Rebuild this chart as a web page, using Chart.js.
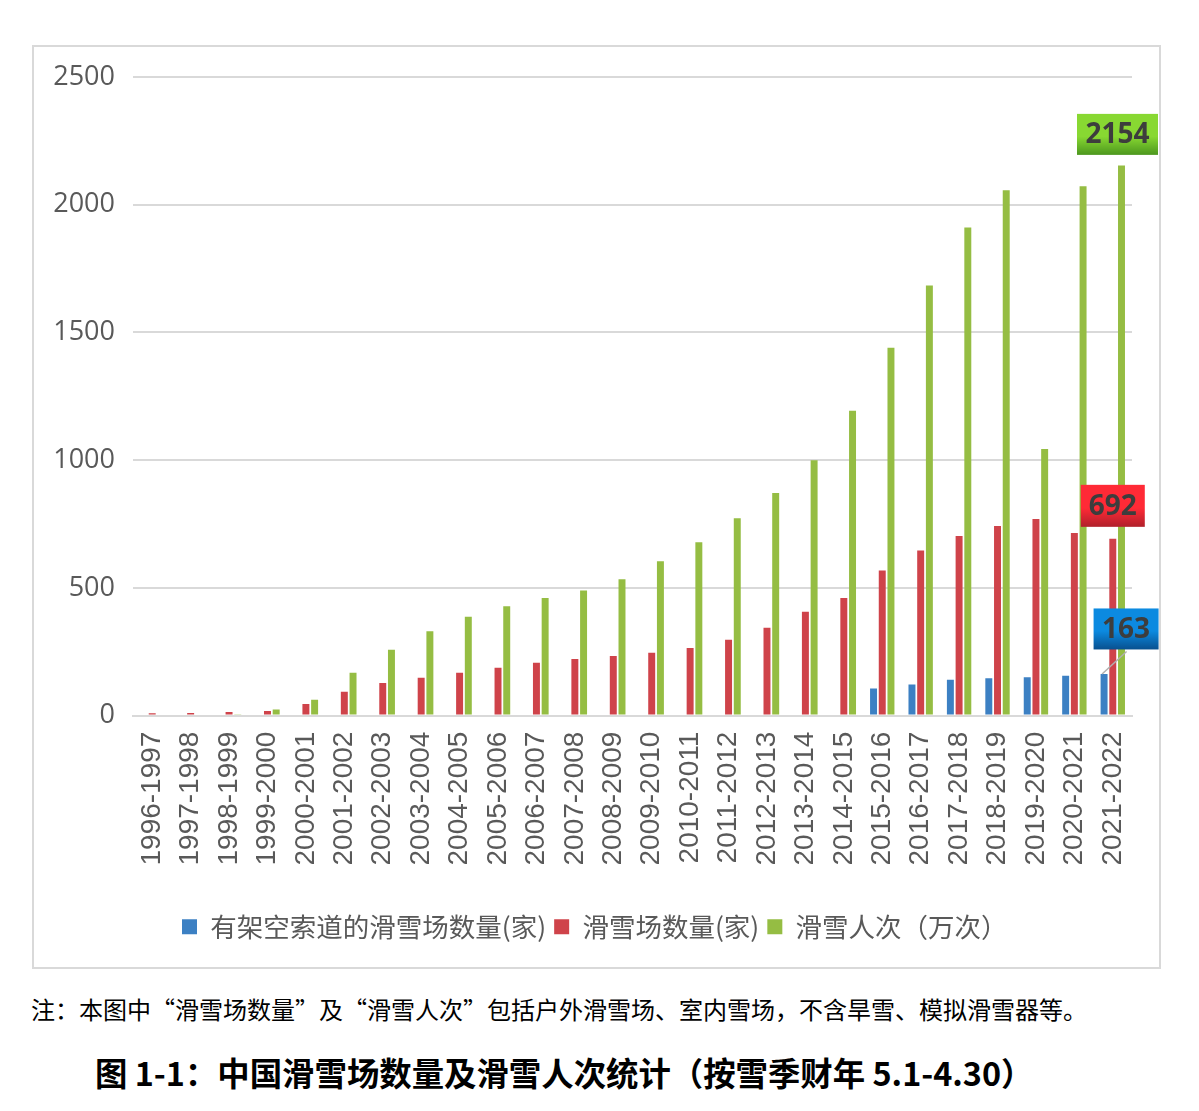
<!DOCTYPE html>
<html>
<head>
<meta charset="utf-8">
<script src="https://cdn.jsdelivr.net/npm/chart.js@4/dist/chart.umd.min.js"></script>
<style>
  html, body { margin: 0; padding: 0; background: #fff; }
  body { width: 1199px; height: 1111px; position: relative; overflow: hidden; }
  #box { position: absolute; left: 32px; top: 45px; width: 1125px; height: 920px; border: 2px solid #d9d9d9; }
  #box canvas { position: absolute; left: 0; top: 0; }
  #note { position: absolute; left: 31px; top: 993px; font-family: "Noto Sans CJK SC"; font-size: 24px; color: #000; white-space: nowrap; line-height: 32px; }
  #title { position: absolute; left: 95px; top: 1050px; font-family: "Noto Sans CJK SC"; font-weight: bold; font-size: 32.4px; color: #000; white-space: nowrap; line-height: 44px; }
</style>
</head>
<body>
<div id="box"><canvas id="c" width="1125" height="920"></canvas></div>
<div id="note" lang="zh-CN">注：本图中“滑雪场数量”及“滑雪人次”包括户外滑雪场、室内雪场，不含旱雪、模拟滑雪器等。</div>
<div id="title" lang="zh-CN">图 1-1：中国滑雪场数量及滑雪人次统计（按雪季财年 5.1-4.30）</div>
<script>
const categories = ["1996-1997","1997-1998","1998-1999","1999-2000","2000-2001","2001-2002","2002-2003","2003-2004","2004-2005","2005-2006","2006-2007","2007-2008","2008-2009","2009-2010","2010-2011","2011-2012","2012-2013","2013-2014","2014-2015","2015-2016","2016-2017","2017-2018","2018-2019","2019-2020","2020-2021","2021-2022"];
const cablewayResorts = [null,null,null,null,null,null,null,null,null,null,null,null,null,null,null,null,null,null,null,106,122,140,146,150,156,163];
const skiResorts = [9,10,14,18,45,93,128,148,168,187,207,222,233,246,265,297,344,407,460,568,646,703,742,770,715,692];
const skierVisits = [null,null,5,24,62,168,258,330,387,428,460,490,534,604,679,773,871,1000,1193,1440,1684,1911,2057,1044,2072,2154];
const seriesNames = ["有架空索道的滑雪场数量(家)","滑雪场数量(家)","滑雪人次（万次）"];
const yTicks = [0,500,1000,1500,2000,2500];

const labelBoxes = [
  { ds: 0, text: "163", w: 65, h: 41, dx: 22, dy: -45, top: "#0c8ae0", bottom: "#08508f", leader: true },
  { ds: 1, text: "692", w: 64, h: 42, dx: 0, dy: -33, top: "#ff2a36", bottom: "#b0202b" },
  { ds: 2, text: "2154", w: 81, h: 41, dx: -4, dy: -31, top: "#88d832", bottom: "#4c971e" }
];

const labelPlugin = {
  id: 'lastLabels',
  afterLayout(chart) {
    const lg = chart.legend;
    if (lg) {
      const w = lg.right - lg.left;
      lg.left = 140;
      lg.right = 140 + w;
    }
  },
  afterDatasetsDraw(chart) {
    const ctx = chart.ctx;
    labelBoxes.forEach(b => {
      const meta = chart.getDatasetMeta(b.ds);
      const el = meta.data[meta.data.length - 1];
      const cx = el.x + b.dx, cy = el.y + b.dy;
      const x0 = cx - b.w / 2, y0 = cy - b.h / 2;
      ctx.save();
      if (b.leader) {
        ctx.strokeStyle = '#b0b0b0';
        ctx.lineWidth = 1.5;
        ctx.beginPath();
        ctx.moveTo(el.x - 2, el.y);
        ctx.lineTo(cx + 0.5, y0 + b.h + 2);
        ctx.stroke();
      }
      const g = ctx.createLinearGradient(0, y0, 0, y0 + b.h);
      g.addColorStop(0, b.top);
      g.addColorStop(0.55, b.top);
      g.addColorStop(1, b.bottom);
      ctx.fillStyle = g;
      ctx.fillRect(x0, y0, b.w, b.h);
      ctx.fillStyle = '#3d3d3d';
      ctx.font = 'bold 28px "Open Sans"';
      ctx.textAlign = 'center';
      ctx.textBaseline = 'middle';
      ctx.fillText(b.text, cx, cy + 1);
      ctx.restore();
    });
  }
};

new Chart(document.getElementById('c'), {
  type: 'bar',
  data: {
    labels: categories,
    datasets: [
      { label: seriesNames[0], data: cablewayResorts, backgroundColor: '#3c80c3' },
      { label: seriesNames[1], data: skiResorts, backgroundColor: '#cf434a' },
      { label: seriesNames[2], data: skierVisits, backgroundColor: '#95bd43' }
    ]
  },
  options: {
    responsive: false,
    animation: false,
    devicePixelRatio: 1,
    categoryPercentage: 0.68,
    barPercentage: 0.8,
    layout: { padding: { top: 30, right: 27, left: 0, bottom: 17 } },
    plugins: {
      tooltip: { enabled: false },
      legend: {
        position: 'bottom',
        align: 'start',
        labels: {
          font: { family: '"Noto Sans CJK SC"', size: 26.5 },
          color: '#595959',
          boxWidth: 15,
          boxHeight: 15,
          padding: 8
        }
      }
    },
    scales: {
      x: {
        afterFit(s) { s.height += 24; s.paddingLeft = 0; s.paddingRight = 0; },
        grid: { display: false, drawTicks: false },
        border: { display: true, color: '#d9d9d9', width: 2 },
        ticks: {
          font: { family: '"Liberation Sans"', size: 28 },
          color: '#595959',
          minRotation: 90,
          maxRotation: 90,
          padding: 16,
          autoSkip: false
        }
      },
      y: {
        min: 0,
        max: 2500,
        afterFit(s) { s.width = 99; s.paddingTop = 0; s.paddingBottom = 0; },
        afterBuildTicks(s) { s.ticks = yTicks.map(v => ({ value: v })); },
        grid: { color: '#d9d9d9', lineWidth: 2, drawTicks: false },
        border: { display: false },
        ticks: {
          font: { family: '"Open Sans"', size: 27 },
          color: '#595959',
          padding: 18,
          callback: v => String(v)
        }
      }
    }
  },
  plugins: [labelPlugin]
});
</script>
</body>
</html>
